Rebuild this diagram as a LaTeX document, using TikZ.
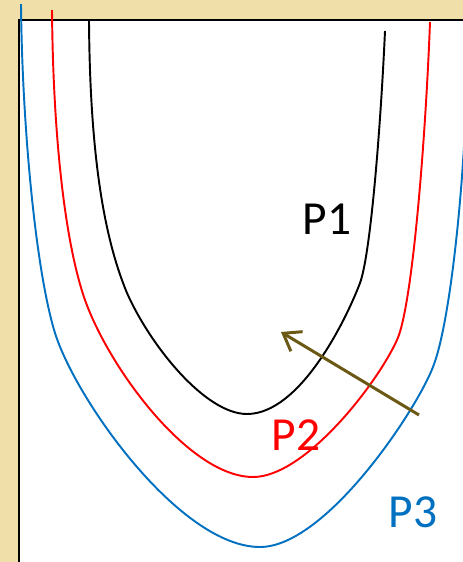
\documentclass[tikz,border=0pt]{standalone}
\usepackage{fontspec}
\setmainfont{Carlito}
\usetikzlibrary{arrows.meta}

\definecolor{paper}{RGB}{240,223,168}
\definecolor{pblue}{RGB}{0,112,192}
\definecolor{olive}{RGB}{107,88,20}

\tikzset{
    curve/.style={line width=1.1pt},
    plabel/.style={inner sep=0pt, font=\fontsize{27}{30}\selectfont},
    shiftarrow/.style={olive, line width=1.7pt, -{Straight Barb[length=9pt,width=13pt]}}
}

\begin{document}
\begin{tikzpicture}[x=0.02cm, y=-0.02cm]
    \useasboundingbox (0,0) rectangle (463,562);

    % 背景与边框
    \fill[paper] (0,0) rectangle (463,562);
    \fill[white] (19,20) rectangle (463,562);
    \draw[line width=1.7pt] (463,20) -- (19,20) -- (19,562);

    % 三条曲线
    \draw[curve, black] (89,21) .. controls (90,160) and (105,240) .. (127,293)
        .. controls (150,345) and (205,414) .. (247,414)
        .. controls (300,414) and (346,320) .. (360,283)
        .. controls (371,253) and (381,120) .. (385,31);
    \draw[curve, red] (52,10) .. controls (53,130) and (64,240) .. (85,300)
        .. controls (110,370) and (190,477) .. (253,477)
        .. controls (305,477) and (377,384) .. (397,340)
        .. controls (413,305) and (426,130) .. (430,22);
    \draw[curve, pblue] (21,4) .. controls (22,120) and (35,268) .. (55,333)
        .. controls (76,400) and (180,547) .. (260,547)
        .. controls (325,547) and (415,413) .. (433,367)
        .. controls (451,321) and (464,180) .. (466,100);

    % 标注
    \node[plabel, black] (p1) at (327,219) {P1};
    \node[plabel, red] (p2) at (296,435) {P2};
    \node[plabel, pblue] (p3) at (413,512) {P3};

    % 箭头
    \coordinate (from) at (419,415);
    \coordinate (to) at (281,332);
    \draw[shiftarrow] (from) -- (to);
\end{tikzpicture}
\end{document}
